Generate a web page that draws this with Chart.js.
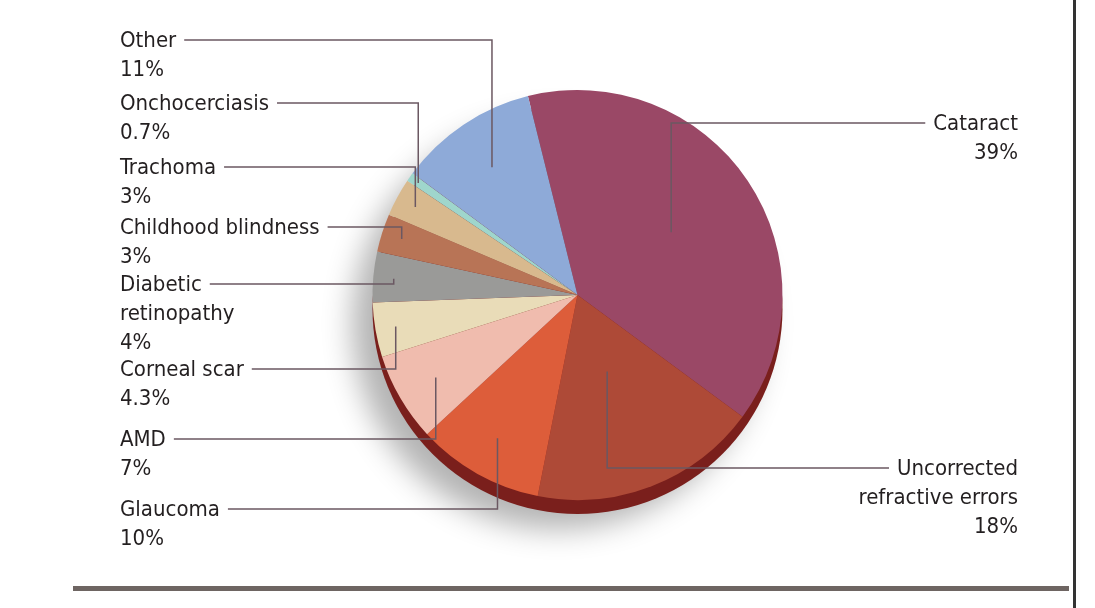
<!DOCTYPE html>
<html>
<head>
<meta charset="utf-8">
<script src="https://cdn.jsdelivr.net/npm/chart.js@4"></script>
<style>
  html, body { margin: 0; padding: 0; background: #fff; }
  #wrap { position: relative; width: 1095px; height: 608px; }
</style>
</head>
<body>
<div id="wrap"><canvas id="pie" width="1095" height="608"></canvas></div>
<script>
// causes of blindness, clockwise from the top
var causes = ['Cataract', 'Uncorrected refractive errors', 'Glaucoma', 'AMD', 'Corneal scar',
              'Diabetic retinopathy', 'Childhood blindness', 'Trachoma', 'Onchocerciasis', 'Other'];
var shares = [39, 18, 10, 7, 4.3, 4, 3, 3, 0.7, 11];
var shareText = ['39%', '18%', '10%', '7%', '4.3%', '4%', '3%', '3%', '0.7%', '11%'];
var sliceColors = ['#9a4866', '#ae4a37', '#dd5d3a', '#f0bcae', '#e9dcb8',
                   '#9a9a98', '#b87456', '#d8b98e', '#9fd6cc', '#8eaad8'];

// label text lines and where they sit (x, first baseline, align)
var labelLines = [
  ['Cataract'], ['Uncorrected', 'refractive errors'], ['Glaucoma'], ['AMD'], ['Corneal scar'],
  ['Diabetic', 'retinopathy'], ['Childhood blindness'], ['Trachoma'], ['Onchocerciasis'], ['Other']
];
var labelPos = [
  [1018, 130, 'right'], [1018, 475, 'right'], [120, 516, 'left'], [120, 446, 'left'], [120, 376, 'left'],
  [120, 291, 'left'], [120, 234, 'left'], [120, 174, 'left'], [120, 110, 'left'], [120, 47, 'left']
];
// how far out along the slice the leader line ends (fraction of radius)
var anchorFrac = [0.55, 0.4, 0.8, 0.8, 0.9, 0.9, 0.9, 0.9, 0.95, 0.75];

var font = '22px "DejaVu Sans Condensed", "DejaVu Sans", sans-serif';

var leaderLabels = {
  id: 'leaderLabels',
  afterDraw: function (chart) {
    var ctx = chart.ctx;
    var arcs = chart.getDatasetMeta(0).data;
    ctx.save();
    ctx.font = font;
    ctx.fillStyle = '#231f20';
    ctx.strokeStyle = '#6b5862';
    ctx.lineWidth = 1.5;
    arcs.forEach(function (arc, i) {
      var p = labelPos[i];
      var lines = labelLines[i].concat([shareText[i]]);
      ctx.textAlign = p[2];
      lines.forEach(function (t, k) { ctx.fillText(t, p[0], p[1] + k * 29); });
      var w = ctx.measureText(labelLines[i][0]).width;
      var mid = (arc.startAngle + arc.endAngle) / 2;
      var r = arc.outerRadius * anchorFrac[i];
      var ax = arc.x + Math.cos(mid) * r;
      var ay = arc.y + Math.sin(mid) * r;
      var ly = p[1] - 7;
      var sx = p[2] === 'left' ? p[0] + w + 8 : p[0] - w - 8;
      ctx.beginPath();
      ctx.moveTo(sx, ly);
      ctx.lineTo(ax, ly);
      ctx.lineTo(ax, ay);
      ctx.stroke();
    });
    // bottom rule and right edge
    ctx.fillStyle = '#6e6562';
    ctx.fillRect(73, 586, 996, 5);
    ctx.fillStyle = '#333';
    ctx.fillRect(1073, 0, 3, 608);
    ctx.restore();
  },
  beforeDatasetsDraw: function (chart) {
    var arc = chart.getDatasetMeta(0).data[0];
    var ctx = chart.ctx;
    ctx.save();
    ctx.shadowColor = 'rgba(0,0,0,0.3)';
    ctx.shadowBlur = 30;
    ctx.shadowOffsetX = -20;
    ctx.shadowOffsetY = 15;
    ctx.fillStyle = '#7a1f1c';
    ctx.beginPath();
    ctx.arc(arc.x, arc.y + 14, arc.outerRadius, 0, Math.PI * 2);
    ctx.fill();
    ctx.restore();
  }
};

new Chart(document.getElementById('pie'), {
  type: 'pie',
  data: {
    labels: causes,
    datasets: [{
      data: shares,
      backgroundColor: sliceColors,
      borderWidth: 0
    }]
  },
  options: {
    responsive: false,
    animation: false,
    rotation: -14,
    layout: { padding: { left: 370, right: 310, top: 90, bottom: 108 } },
    plugins: { legend: { display: false }, tooltip: { enabled: false } }
  },
  plugins: [leaderLabels]
});
</script>
</body>
</html>
